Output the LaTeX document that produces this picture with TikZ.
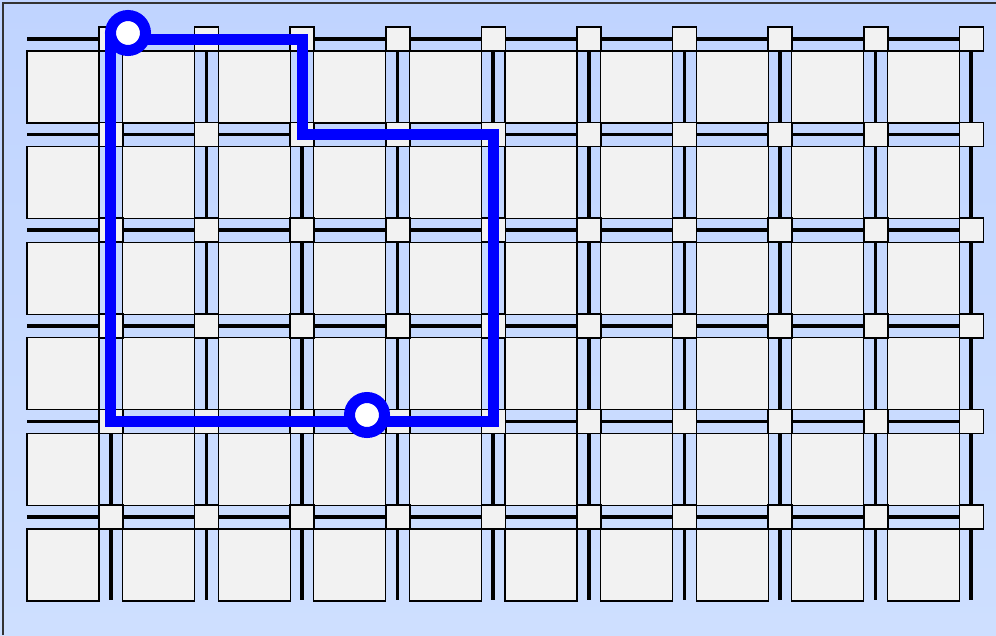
\documentclass[tikz,border=0pt]{standalone}
\definecolor{skytop}{HTML}{C0D4FF}
\definecolor{skybottom}{HTML}{CEDFFF}
\definecolor{blockgray}{HTML}{F2F2F2}
\definecolor{routeblue}{HTML}{0000FF}
\begin{document}
\begin{tikzpicture}[x=1pt, y=-1pt,
    block/.style={fill=blockgray, draw=black, line width=1.3pt},
    crossing/.style={fill=blockgray, draw=black, line width=1.5pt},
    road/.style={draw=black, line width=3.5pt},
    route/.style={draw=routeblue, line width=11pt, miter limit=10},
    stop/.style={circle, draw=routeblue, fill=white, line width=11pt,
                 minimum size=35pt, inner sep=0pt}]
    \useasboundingbox (0,0) rectangle (996,635);
    \shade[top color=skytop, bottom color=skybottom] (0,0) rectangle (996,635);
    \draw[line width=1.5pt, black!80] (3,635) |- (996,3);
    % roads
    \foreach \j in {0,...,5}
      \draw[road] (27,{39+95.6*\j}) -- (971,{39+95.6*\j});
    \foreach \i in {0,...,9}
      \draw[road] ({110.8+95.6*\i},39) -- ({110.8+95.6*\i},600);
    % blocks and crossings
    \foreach \i in {0,...,9}
      \foreach \j in {0,...,5}
        \draw[block] ({27+95.6*\i},{51+95.6*\j}) rectangle +(72,72);
    \foreach \i in {0,...,9}
      \foreach \j in {0,...,5}
        \draw[crossing] ({99+95.6*\i},{27+95.6*\j}) rectangle +(24,24);
    % route
    \coordinate (nw) at (110.8,39);
    \coordinate (ne) at (302,39);
    \coordinate (step) at (302,134.6);
    \coordinate (mid) at (493.2,134.6);
    \coordinate (se) at (493.2,421.4);
    \coordinate (sw) at (110.8,421.4);
    \draw[route] (nw) -- (ne) -- (step) -- (mid) -- (se) -- (sw) -- cycle;
    \node[stop] (start) at (128,33) {};
    \node[stop] (goal) at (367,415) {};
\end{tikzpicture}
\end{document}
